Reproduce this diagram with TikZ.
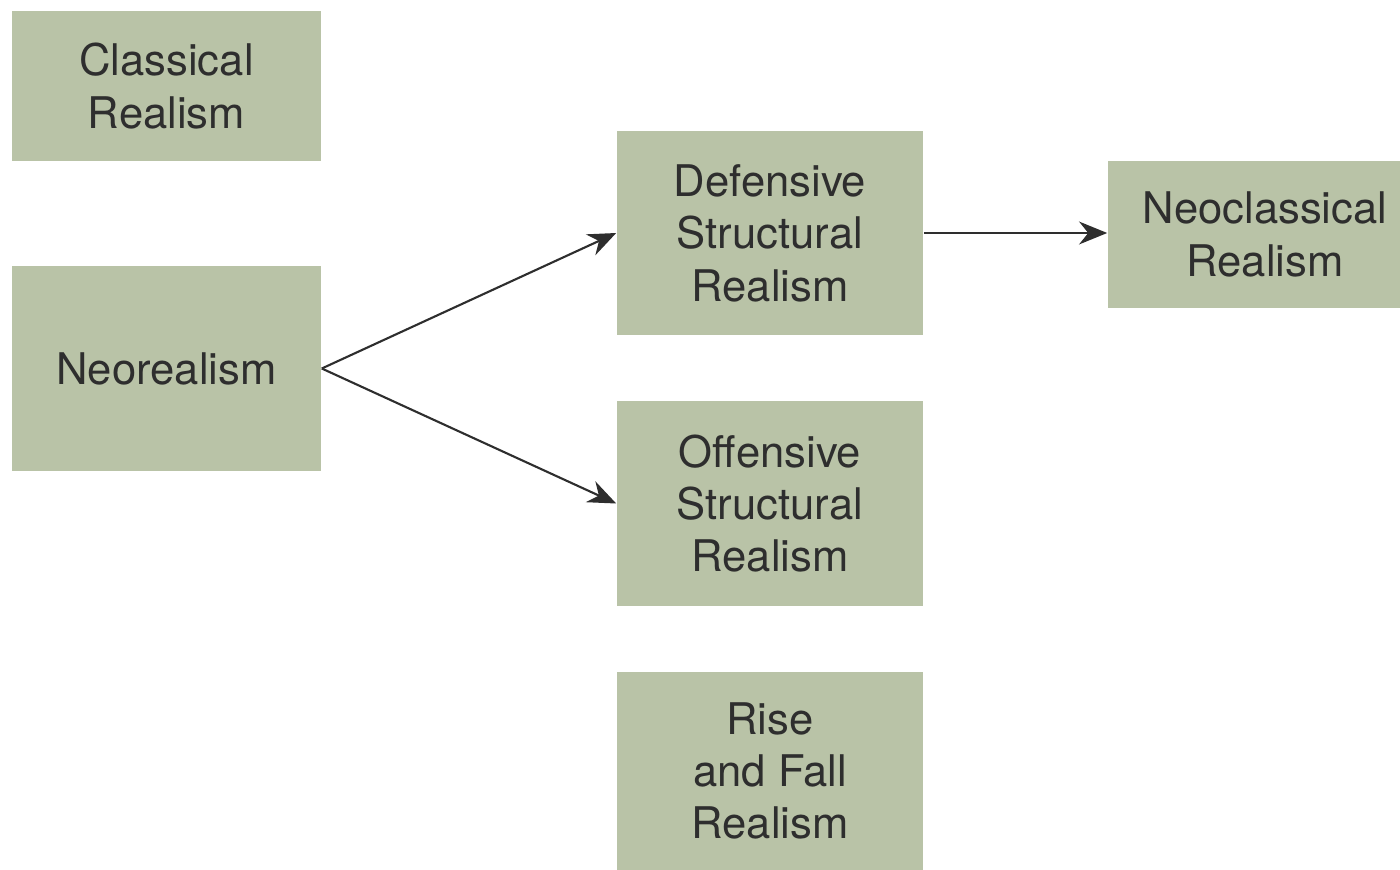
\documentclass[tikz,border=0pt]{standalone}
\usepackage{fontspec}
\setmainfont{TeX Gyre Heros}
\usetikzlibrary{arrows.meta}
\definecolor{boxfill}{HTML}{B9C3A7}
\definecolor{txt}{HTML}{2E2E2E}
\begin{document}
\begin{tikzpicture}[x=0.01cm,y=-0.01cm,
  theory/.style={fill=boxfill,draw=none,text=txt,align=center,inner sep=0pt,
    font=\fontsize{12.4pt}{14.9pt}\selectfont},
  link/.style={draw=txt,line width=0.6pt,-{Stealth[length=8pt,width=6.5pt]}}]
\useasboundingbox (0,0) rectangle (1400,870);
\node[theory,minimum width=3.09cm,minimum height=1.50cm] (cr) at (166.5,86) {Classical\\Realism};
\node[theory,minimum width=3.09cm,minimum height=2.05cm] (neo) at (166.5,368.5) {Neorealism};
\node[theory,minimum width=3.06cm,minimum height=2.04cm] (def) at (770,233) {Defensive\\Structural\\Realism};
\node[theory,minimum width=3.06cm,minimum height=2.05cm] (off) at (770,503.5) {Offensive\\Structural\\Realism};
\node[theory,minimum width=3.06cm,minimum height=1.98cm] (rf) at (770,771) {Rise\\and Fall\\Realism};
\node[theory,minimum width=3.14cm,minimum height=1.47cm] (ncl) at (1265,234.5) {Neoclassical\\Realism};
\draw[link] (neo.east) -- (def.west);
\draw[link] (neo.east) -- (off.west);
\draw[link] (def.east) -- (def.east -| ncl.west);
\end{tikzpicture}
\end{document}
